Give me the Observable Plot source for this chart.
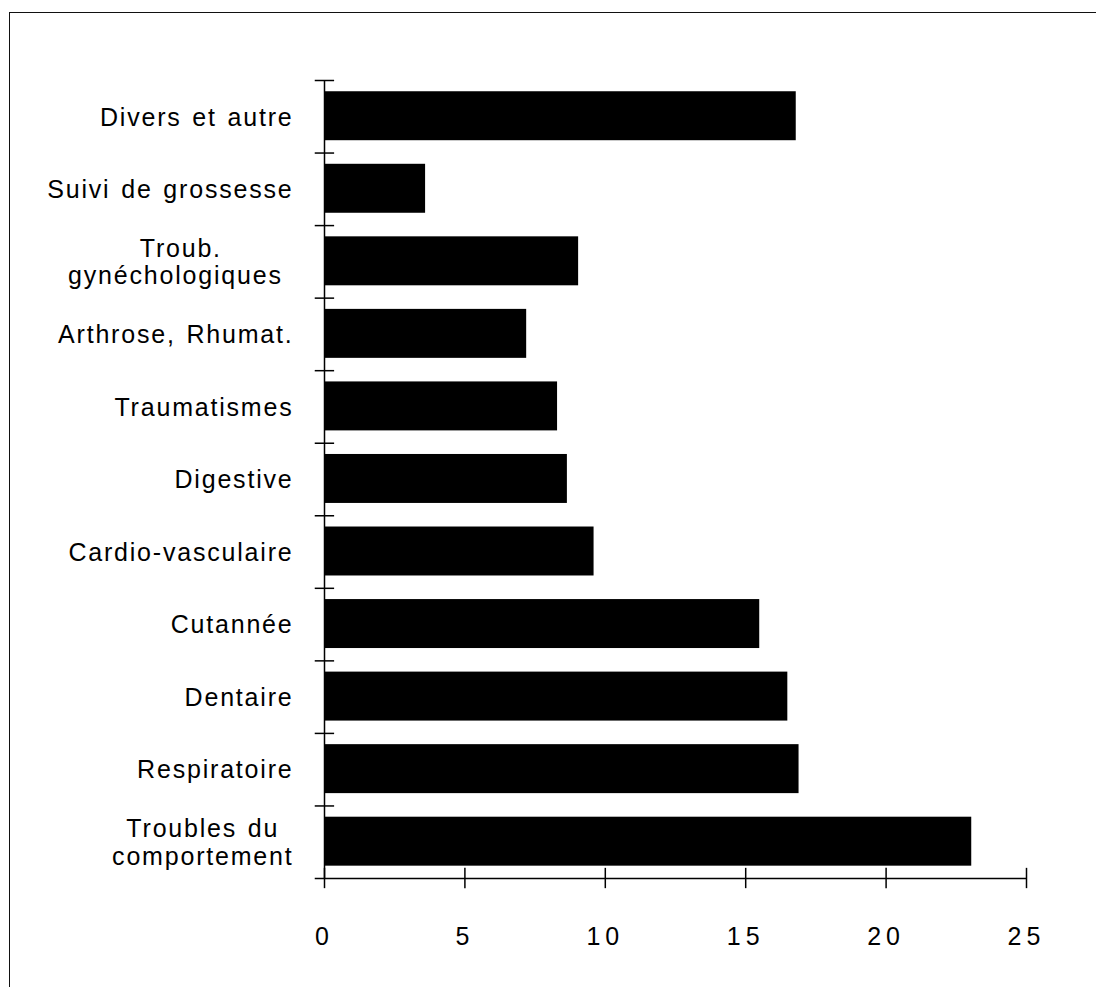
<!DOCTYPE html>
<html><head><meta charset="utf-8">
<script src="https://cdn.jsdelivr.net/npm/d3@7"></script>
<script src="https://cdn.jsdelivr.net/npm/@observablehq/plot@0.6"></script>
<style>
body{margin:0;background:#fff;}
#wrap{position:relative;width:1096px;height:987px;overflow:hidden;background:#fff;}
#border{position:absolute;left:9px;top:12px;width:1200px;height:1200px;border-left:1.5px solid #111;border-top:1.5px solid #111;pointer-events:none}
#wrap svg{position:absolute;left:0;top:0;}
#wrap svg text{font-family:"Liberation Sans", Arial, Helvetica, sans-serif;fill:#000;}
g[aria-label="x-axis tick label"] text{letter-spacing:5px}
g[aria-label="y-axis tick label"] text{letter-spacing:1.8px; word-spacing:2px}
</style></head>
<body><div id="wrap"><div id="border"></div></div>
<script>
const categories = ["Divers et autre", "Suivi de grossesse", "Troub.\ngynéchologiques\u00a0", "Arthrose, Rhumat.", "Traumatismes", "Digestive", "Cardio-vasculaire", "Cutannée", "Dentaire", "Respiratoire", "Troubles du\ncomportement"];
const values = [16.8, 3.6, 9.05, 7.2, 8.3, 8.65, 9.6, 15.5, 16.5, 16.9, 23.05];
const xTicks = [0, 5, 10, 15, 20, 25];

const rows = categories.map((c, i) => ({category: c, value: values[i], index: i}));
const n = categories.length;
const boundaries = d3.range(n + 1);
const labelPos = rows.map(d => d.index + 0.5);

const chart = Plot.plot({
  width: 1096,
  height: 987,
  marginTop: 80,
  marginBottom: 109,
  marginLeft: 324,
  marginRight: 70,
  style: {background: "transparent", color: "#000"},
  x: {type: "linear", domain: [0, 25]},
  y: {type: "linear", domain: [n, 0]},
  marks: [
    Plot.rectX(rows, {x1: 0, x2: "value", y1: d => d.index + 0.155, y2: d => d.index + 0.83, fill: "#000"}),
    Plot.ruleX([0], {y1: 0, y2: n, stroke: "#000", strokeWidth: 1.5}),
    Plot.ruleY(boundaries.slice(0, n), {y: d => d, x1: -0.33, x2: 0.36, stroke: "#000", strokeWidth: 1.5}),
    Plot.ruleY([n], {y: d => d, x1: -0.33, x2: 25, stroke: "#000", strokeWidth: 1.5}),
    Plot.ruleX(xTicks, {x: d => d, y1: n - 0.14, y2: n + 0.14, stroke: "#000", strokeWidth: 1.5}),
    Plot.axisX(xTicks, {tickSize: 0, tickPadding: 49, fontSize: 25, label: null, tickFormat: d => String(d)}),
    Plot.axisY(labelPos, {tickSize: 0, tickPadding: 31, fontSize: 25, lineHeight: 1.1, label: null, tickFormat: v => categories[Math.floor(v)]})
  ]
});
document.getElementById("wrap").appendChild(chart);

// center the lines of multi-line category labels on each other, right edge at the label position
chart.querySelectorAll('g[aria-label="y-axis tick label"] text').forEach(t => {
  const spans = t.querySelectorAll("tspan");
  if (spans.length > 1) {
    t.setAttribute("xml:space", "preserve");
    t.style.whiteSpace = "pre";
    let L = 0;
    spans.forEach(s => { L = Math.max(L, s.getComputedTextLength()); });
    t.setAttribute("text-anchor", "middle");
    spans.forEach(s => s.setAttribute("x", -L / 2));
  }
});
</script>
</body></html>
